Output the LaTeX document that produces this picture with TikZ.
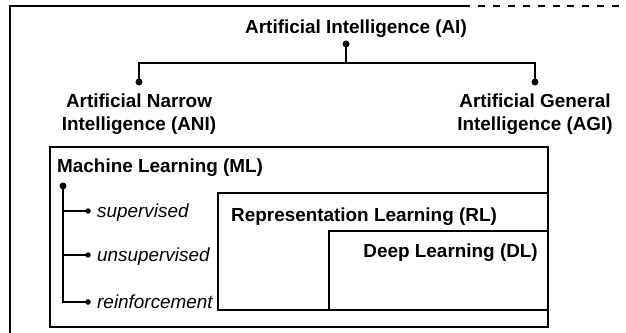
\documentclass[tikz,border=0pt]{standalone}
\usepackage{fontspec}
\setmainfont{Liberation Sans}
\newcommand\diagfs{\fontsize{18.9}{23}\selectfont}
\begin{document}
\begin{tikzpicture}[x=1pt,y=-1pt,
  every node/.style={inner sep=0pt},
  lbl/.style={font=\diagfs\bfseries},
  ilbl/.style={font=\diagfs\itshape},
  dot/.style={circle,fill=black,minimum size=7pt},
  sdot/.style={circle,fill=black,minimum size=5.5pt},
  box/.style={draw=black,line width=2pt,rectangle,anchor=north west},
  conn/.style={line width=2.2pt},
  frame/.style={line width=2pt}]
\useasboundingbox (0,0) rectangle (626,332);
% outer AI frame
\coordinate (fb) at (10,334);
\coordinate (ftl) at (10,6);
\coordinate (fs) at (470,6);
\coordinate (fd0) at (478,6);
\coordinate (fd1) at (619,6);
\draw[frame] (fb) -- (ftl) -- (fs);
\draw[frame,dash pattern=on 7pt off 7.9pt] (fd0) -- (fd1);
% AI tree
\node[lbl,anchor=base] (ai) at (356,33) {Artificial Intelligence (AI)};
\node[dot] (aidot) at (346,44) {};
\coordinate (junc) at (346,63);
\node[dot] (anidot) at (139,82) {};
\node[dot] (agidot) at (535,82) {};
\draw[conn] (aidot.center) -- (junc) -| (anidot.center);
\draw[conn] (junc) -| (agidot.center);
\node[lbl,align=center,anchor=north] (ani) at (139,93.2) {Artificial Narrow\\Intelligence (ANI)};
\node[lbl,align=center,anchor=north] (agi) at (535,93.2) {Artificial General\\Intelligence (AGI)};
% boxes
\node[box,minimum width=498pt,minimum height=180pt] (ml) at (49,146) {};
\node[box,minimum width=330pt,minimum height=117pt] (rl) at (217,192) {};
\node[box,minimum width=219pt,minimum height=79pt] (dl) at (328,230) {};
\node[lbl,anchor=base west] (mlt) at (57,172) {Machine Learning (ML)};
\node[lbl,anchor=base west] (rlt) at (231,221) {Representation Learning (RL)};
\node[lbl,anchor=base east] (dlt) at (538,257) {Deep Learning (DL)};
% ML tree
\node[dot] (mldot) at (63,186) {};
\node[sdot] (sup) at (88,211) {};
\node[sdot] (uns) at (88,255) {};
\node[sdot] (rei) at (88,302) {};
\draw[conn] (mldot.center) |- (rei.center);
\draw[conn] (mldot.center |- sup.center) -- (sup.center);
\draw[conn] (mldot.center |- uns.center) -- (uns.center);
\node[ilbl,anchor=base west] (supt) at (97,217.5) {supervised};
\node[ilbl,anchor=base west] (unst) at (97,261.5) {unsupervised};
\node[ilbl,anchor=base west] (reit) at (97,308.5) {reinforcement};
\end{tikzpicture}
\end{document}
